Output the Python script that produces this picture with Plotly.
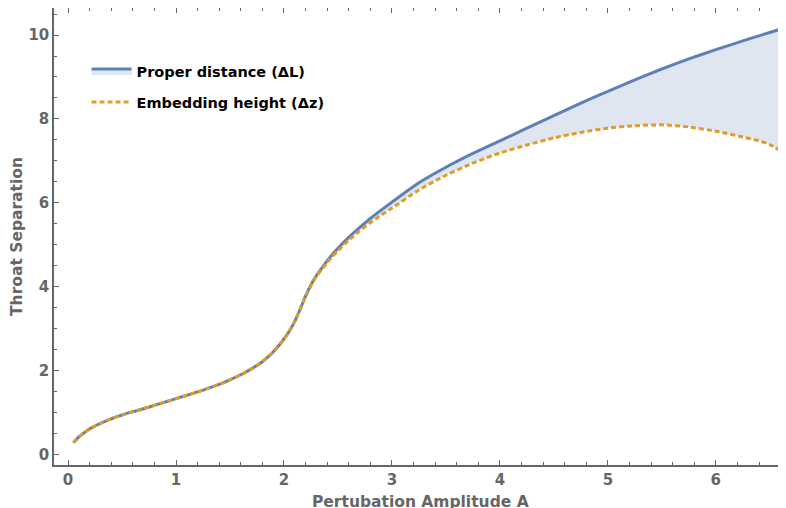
import plotly.graph_objects as go

# Perturbation amplitude A
amp = [0.05, 0.1, 0.15, 0.2, 0.3, 0.4, 0.5, 0.6, 0.7, 0.8, 0.9, 1.0, 1.1, 1.2, 1.3, 1.4,
       1.5, 1.6, 1.7, 1.8, 1.9, 2.0, 2.05, 2.1, 2.15, 2.2, 2.25, 2.3, 2.35, 2.4, 2.45, 2.5,
       2.6, 2.7, 2.8, 2.9, 3.0, 3.25, 3.5, 3.75, 4.0, 4.25, 4.5, 4.75, 5.0, 5.25, 5.5,
       5.75, 6.0, 6.25, 6.4, 6.5, 6.6]

# Proper distance ΔL
proper_distance = [0.29, 0.43, 0.53, 0.62, 0.75, 0.86, 0.95, 1.03, 1.10, 1.18, 1.26, 1.34,
                   1.42, 1.50, 1.59, 1.68, 1.79, 1.91, 2.05, 2.22, 2.45, 2.76, 2.95, 3.18,
                   3.47, 3.78, 4.05, 4.27, 4.45, 4.62, 4.78, 4.92, 5.18, 5.41, 5.63, 5.83,
                   6.02, 6.48, 6.85, 7.18, 7.48, 7.78, 8.08, 8.38, 8.66, 8.93, 9.19, 9.43,
                   9.65, 9.86, 9.98, 10.06, 10.14]

# Embedding height Δz
embedding_height = [0.29, 0.43, 0.53, 0.62, 0.75, 0.86, 0.95, 1.03, 1.10, 1.18, 1.26, 1.34,
                    1.42, 1.50, 1.59, 1.68, 1.79, 1.91, 2.05, 2.22, 2.45, 2.76, 2.95, 3.18,
                    3.47, 3.77, 4.03, 4.25, 4.42, 4.58, 4.73, 4.86, 5.11, 5.33, 5.53, 5.71,
                    5.88, 6.31, 6.66, 6.95, 7.19, 7.38, 7.55, 7.68, 7.78, 7.84, 7.86, 7.81,
                    7.71, 7.57, 7.48, 7.39, 7.24]

x_ticks = [0, 1, 2, 3, 4, 5, 6]
y_ticks = [0, 2, 4, 6, 8, 10]

X_TITLE = "Pertubation Amplitude A"
Y_TITLE = "Throat Separation"

BLUE = "#5E81B5"
ORANGE = "#E19C24"
FILL = "rgba(94,129,181,0.2)"
GRAY = "#666666"
FONT = "DejaVu Sans"

fig = go.Figure()

fig.add_trace(go.Scatter(x=amp, y=embedding_height, mode="lines",
                         line=dict(width=0, color=ORANGE, shape="spline", smoothing=0.6),
                         showlegend=False, hoverinfo="skip"))
fig.add_trace(go.Scatter(x=amp, y=proper_distance, mode="lines",
                         name="<b>Proper distance (ΔL)</b>",
                         line=dict(color=BLUE, width=3, shape="spline", smoothing=0.6),
                         fill="tonexty", fillcolor=FILL, legend="legend"))
fig.add_trace(go.Scatter(x=amp, y=embedding_height, mode="lines",
                         name="<b>Embedding height (Δz)</b>",
                         line=dict(color=ORANGE, width=3, dash="5px,3px",
                                   shape="spline", smoothing=0.6),
                         legend="legend2"))

axis_common = dict(
    showline=True, linecolor=GRAY, linewidth=1.5,
    ticks="inside", tickcolor=GRAY, ticklen=5, tickwidth=1,
    showgrid=False, zeroline=False, automargin=False,
    tickfont=dict(family=FONT, size=15, color=GRAY),
)

legend_common = dict(xanchor="left", yanchor="middle", itemwidth=40,
                     bgcolor="rgba(0,0,0,0)",
                     font=dict(family=FONT, size=14.5, color="black"))

# the page body adds an ~8px offset, so the figure is sized to fit the rest of the window
fig.update_layout(
    width=778, height=500,
    margin=dict(l=46, r=0, t=0, b=43),
    plot_bgcolor="white", paper_bgcolor="white",
    font=dict(family=FONT),
    xaxis=dict(
        range=[-0.13, 6.65], tickvals=x_ticks,
        ticktext=[f"<b>{v}</b>" for v in x_ticks],
        minor=dict(dtick=0.2, ticks="inside", ticklen=3, tickcolor=GRAY, tick0=0),
        mirror="ticks",
        **axis_common,
    ),
    yaxis=dict(
        range=[-0.24, 10.643], tickvals=y_ticks,
        ticktext=[f"<b>{v}</b>" for v in y_ticks],
        minor=dict(dtick=0.5, ticks="inside", ticklen=3, tickcolor=GRAY, tick0=0),
        title=dict(text=f"<b>{Y_TITLE}</b>",
                   font=dict(family=FONT, size=15.5, color=GRAY), standoff=5),
        **axis_common,
    ),
    legend=dict(x=0.0445, y=0.862, **legend_common),
    legend2=dict(x=0.0445, y=0.794, **legend_common),
    annotations=[dict(
        text=f"<b>{X_TITLE}</b>", xref="paper", yref="paper", x=0.5, y=0,
        xanchor="center", yanchor="top", yshift=-26, showarrow=False,
        font=dict(family=FONT, size=15.5, color=GRAY),
    )],
)

fig.write_html("out.html")
